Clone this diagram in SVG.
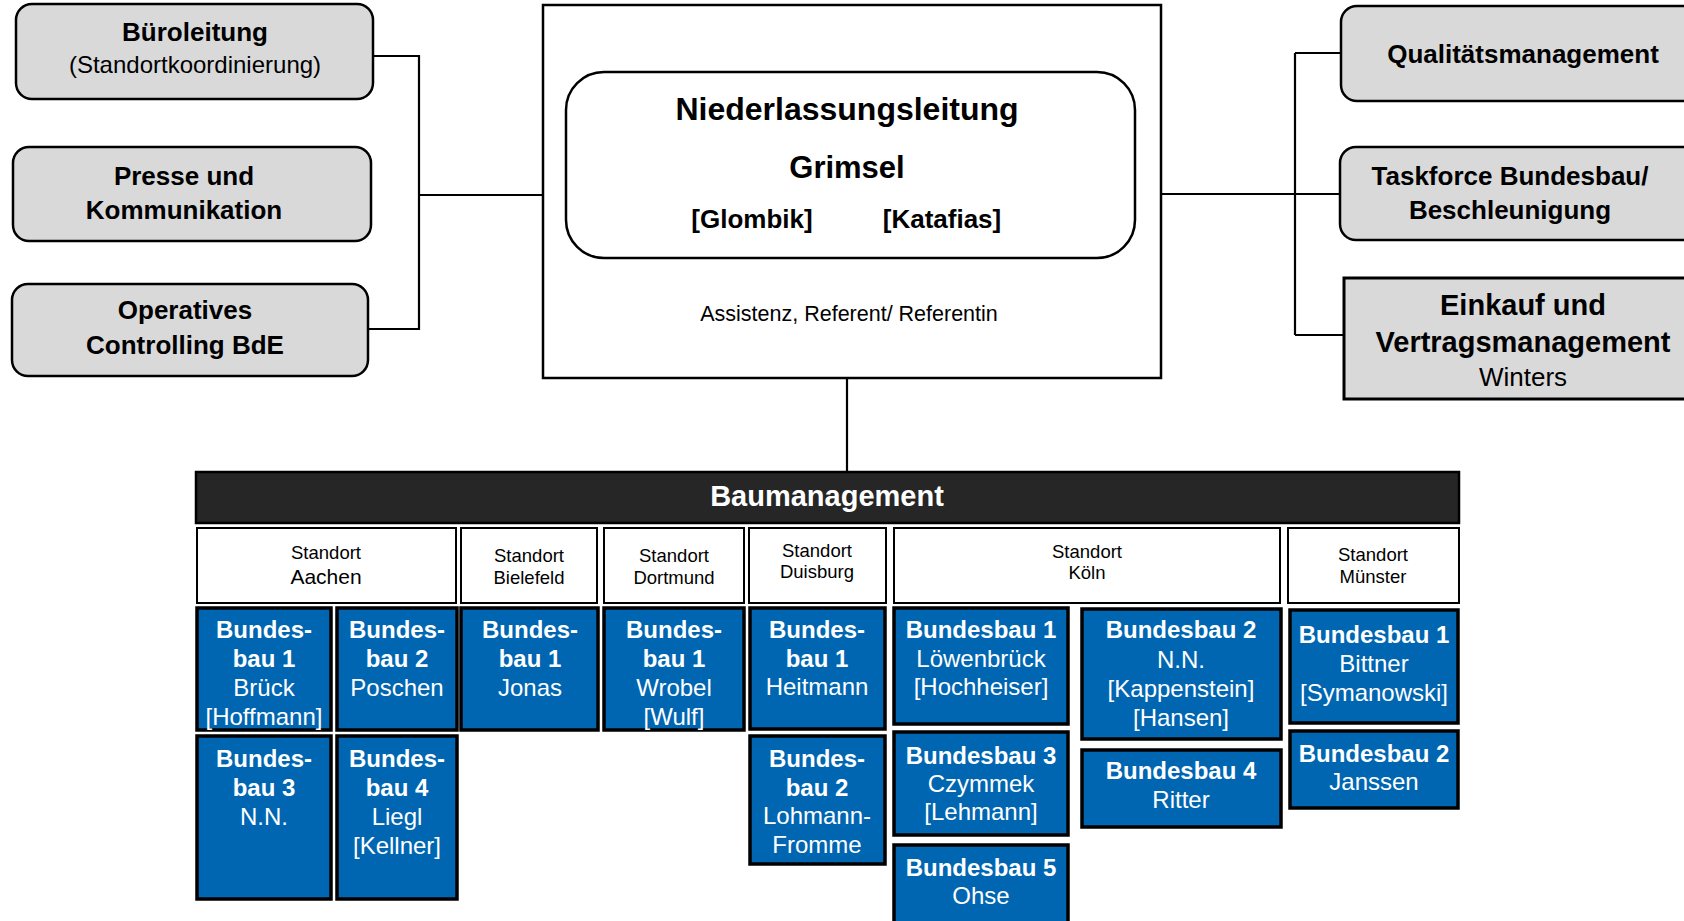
<svg xmlns="http://www.w3.org/2000/svg" width="1684" height="921" viewBox="0 0 1684 921">
<style>
text{font-family:"Liberation Sans",Arial,sans-serif;text-anchor:middle;fill:#000}
.b{font-weight:bold}
.gbox{fill:#d9d9d9;stroke:#000;stroke-width:2.5}
.hdr{fill:#fff;stroke:#000;stroke-width:2}
.blue{fill:#0066b2;stroke:#000;stroke-width:3.5}
.w{fill:#fff}
.bt text{fill:#fff;font-size:24px}
.con{stroke:#000;stroke-width:2.2;fill:none}
</style>
<rect width="1684" height="921" fill="#fff"/>
<g id="connectors">
<path class="con" d="M373 56H419V329H368M419 195H543"/>
<path class="con" d="M1161 194H1295M1295 53V335M1295 53H1341M1295 194H1340M1295 335H1344"/>
<path class="con" d="M847 378V472"/>
</g>
<g id="bueroleitung">
<rect class="gbox" x="16" y="4" width="357" height="95" rx="16"/>
<text class="b" x="195" y="41" font-size="26">Büroleitung</text>
<text x="195" y="73" font-size="24">(Standortkoordinierung)</text>
</g>
<g id="presse">
<rect class="gbox" x="13" y="147" width="358" height="94" rx="16"/>
<text class="b" x="184" y="185" font-size="26">Presse und</text>
<text class="b" x="184" y="219" font-size="26">Kommunikation</text>
</g>
<g id="controlling">
<rect class="gbox" x="12" y="284" width="356" height="92" rx="16"/>
<text class="b" x="185" y="319" font-size="26">Operatives</text>
<text class="b" x="185" y="354" font-size="26">Controlling BdE</text>
</g>
<g id="niederlassungsleitung">
<rect x="543" y="5" width="618" height="373" fill="#fff" stroke="#000" stroke-width="2.5"/>
<rect x="566" y="72" width="569" height="186" rx="38" fill="#fff" stroke="#000" stroke-width="2.5"/>
<text class="b" x="847" y="120" font-size="32">Niederlassungsleitung</text>
<text class="b" x="847" y="178" font-size="31">Grimsel</text>
<text class="b" x="752" y="228" font-size="26">[Glombik]</text>
<text class="b" x="942" y="228" font-size="26">[Katafias]</text>
<text x="849" y="321" font-size="21.5">Assistenz, Referent/ Referentin</text>
</g>
<g id="qualitaet">
<rect class="gbox" x="1341" y="6" width="380" height="95" rx="16"/>
<text class="b" x="1523" y="63" font-size="26">Qualitätsmanagement</text>
</g>
<g id="taskforce">
<rect class="gbox" x="1340" y="147" width="380" height="93" rx="16"/>
<text class="b" x="1510" y="185" font-size="26">Taskforce Bundesbau/</text>
<text class="b" x="1510" y="219" font-size="26">Beschleunigung</text>
</g>
<g id="einkauf">
<rect x="1344" y="278" width="380" height="121" fill="#d9d9d9" stroke="#000" stroke-width="3"/>
<text class="b" x="1523" y="315" font-size="29">Einkauf und</text>
<text class="b" x="1523" y="352" font-size="29">Vertragsmanagement</text>
<text x="1523" y="386" font-size="26">Winters</text>
</g>
<g id="baumanagement">
<rect x="196" y="472" width="1263" height="51" fill="#262626" stroke="#000" stroke-width="2.5"/>
<text class="b w" x="827" y="506" font-size="29">Baumanagement</text>
</g>
<g id="standort-aachen">
<rect class="hdr" x="197" y="528" width="259" height="75"/>
<text x="326" y="559" font-size="18.5">Standort</text>
<text x="326" y="584" font-size="21">Aachen</text>
</g>
<g id="standort-bielefeld">
<rect class="hdr" x="461" y="528" width="136" height="75"/>
<text x="529" y="562" font-size="18.5">Standort</text>
<text x="529" y="584" font-size="18.5">Bielefeld</text>
</g>
<g id="standort-dortmund">
<rect class="hdr" x="604" y="528" width="140" height="75"/>
<text x="674" y="562" font-size="18.5">Standort</text>
<text x="674" y="584" font-size="18.5">Dortmund</text>
</g>
<g id="standort-duisburg">
<rect class="hdr" x="749" y="528" width="137" height="75"/>
<text x="817" y="557" font-size="18.5">Standort</text>
<text x="817" y="578" font-size="18.5">Duisburg</text>
</g>
<g id="standort-koeln">
<rect class="hdr" x="894" y="528" width="386" height="75"/>
<text x="1087" y="558" font-size="18.5">Standort</text>
<text x="1087" y="579" font-size="18.5">Köln</text>
</g>
<g id="standort-muenster">
<rect class="hdr" x="1288" y="528" width="171" height="75"/>
<text x="1373" y="561" font-size="18.5">Standort</text>
<text x="1373" y="583" font-size="18.5">Münster</text>
</g>
<g id="aachen-bb1" class="bt">
<rect class="blue" x="197" y="608" width="134" height="122"/>
<text class="b" x="264" y="638">Bundes-</text>
<text class="b" x="264" y="667">bau 1</text>
<text x="264" y="696">Brück</text>
<text x="264" y="725">[Hoffmann]</text>
</g>
<g id="aachen-bb2" class="bt">
<rect class="blue" x="337" y="608" width="120" height="122"/>
<text class="b" x="397" y="638">Bundes-</text>
<text class="b" x="397" y="667">bau 2</text>
<text x="397" y="696">Poschen</text>
</g>
<g id="aachen-bb3" class="bt">
<rect class="blue" x="197" y="736" width="134" height="163"/>
<text class="b" x="264" y="767">Bundes-</text>
<text class="b" x="264" y="796">bau 3</text>
<text x="264" y="825">N.N.</text>
</g>
<g id="aachen-bb4" class="bt">
<rect class="blue" x="337" y="736" width="120" height="163"/>
<text class="b" x="397" y="767">Bundes-</text>
<text class="b" x="397" y="796">bau 4</text>
<text x="397" y="825">Liegl</text>
<text x="397" y="854">[Kellner]</text>
</g>
<g id="bielefeld-bb1" class="bt">
<rect class="blue" x="461" y="608" width="137" height="122"/>
<text class="b" x="530" y="638">Bundes-</text>
<text class="b" x="530" y="667">bau 1</text>
<text x="530" y="696">Jonas</text>
</g>
<g id="dortmund-bb1" class="bt">
<rect class="blue" x="604" y="608" width="140" height="122"/>
<text class="b" x="674" y="638">Bundes-</text>
<text class="b" x="674" y="667">bau 1</text>
<text x="674" y="696">Wrobel</text>
<text x="674" y="725">[Wulf]</text>
</g>
<g id="duisburg-bb1" class="bt">
<rect class="blue" x="750" y="608" width="135" height="121"/>
<text class="b" x="817" y="638">Bundes-</text>
<text class="b" x="817" y="667">bau 1</text>
<text x="817" y="695">Heitmann</text>
</g>
<g id="duisburg-bb2" class="bt">
<rect class="blue" x="750" y="736" width="135" height="128"/>
<text class="b" x="817" y="767">Bundes-</text>
<text class="b" x="817" y="796">bau 2</text>
<text x="817" y="824">Lohmann-</text>
<text x="817" y="853">Fromme</text>
</g>
<g id="koeln-bb1" class="bt">
<rect class="blue" x="894" y="608" width="174" height="116"/>
<text class="b" x="981" y="638">Bundesbau 1</text>
<text x="981" y="667">Löwenbrück</text>
<text x="981" y="695">[Hochheiser]</text>
</g>
<g id="koeln-bb3" class="bt">
<rect class="blue" x="894" y="732" width="174" height="103"/>
<text class="b" x="981" y="764">Bundesbau 3</text>
<text x="981" y="792">Czymmek</text>
<text x="981" y="820">[Lehmann]</text>
</g>
<g id="koeln-bb5" class="bt">
<rect class="blue" x="894" y="845" width="174" height="100"/>
<text class="b" x="981" y="876">Bundesbau 5</text>
<text x="981" y="904">Ohse</text>
</g>
<g id="koeln-bb2" class="bt">
<rect class="blue" x="1082" y="609" width="199" height="130"/>
<text class="b" x="1181" y="638">Bundesbau 2</text>
<text x="1181" y="668">N.N.</text>
<text x="1181" y="697">[Kappenstein]</text>
<text x="1181" y="726">[Hansen]</text>
</g>
<g id="koeln-bb4" class="bt">
<rect class="blue" x="1082" y="750" width="199" height="77"/>
<text class="b" x="1181" y="779">Bundesbau 4</text>
<text x="1181" y="808">Ritter</text>
</g>
<g id="muenster-bb1" class="bt">
<rect class="blue" x="1290" y="610" width="168" height="113"/>
<text class="b" x="1374" y="643">Bundesbau 1</text>
<text x="1374" y="672">Bittner</text>
<text x="1374" y="701">[Symanowski]</text>
</g>
<g id="muenster-bb2" class="bt">
<rect class="blue" x="1290" y="731" width="168" height="77"/>
<text class="b" x="1374" y="762">Bundesbau 2</text>
<text x="1374" y="790">Janssen</text>
</g>
</svg>
